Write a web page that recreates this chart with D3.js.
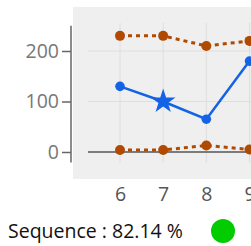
<!DOCTYPE html>
<html>
<head>
<meta charset="utf-8">
<script src="https://cdn.jsdelivr.net/npm/d3@7"></script>
<style>
  body { margin: 0; background: #fff; }
  svg { display: block; font-family: "Open Sans", sans-serif; }
</style>
</head>
<body>
<div id="chart"></div>
<script>
// data
let categories = [6, 7, 8, 9]
let upper = [230, 230, 210, 220]
let lower = [4, 4, 13, 5]
let sequence = [130, 100, 65, 180]
let yTicks = [0, 100, 200]
let legendText = "Sequence : 82.14 %"

let svg = d3.select('#chart')
    .append('svg')
    .attr('width', 251)
    .attr('height', 246)

// scales
let x = d3.scaleLinear().domain([6, 9]).range([120, 249.5])
let y = d3.scaleLinear().domain([0, 200]).range([152, 51])

// gray panel behind the plot
svg.append('rect')
    .attr('x', 73)
    .attr('y', 7)
    .attr('width', 190)
    .attr('height', 172)
    .attr('fill', '#efefef')

// grid lines
svg.append('g')
    .selectAll('line.hgrid')
    .data(yTicks.filter(d => d !== 0))
    .join('line')
    .attr('x1', 88)
    .attr('x2', 251)
    .attr('y1', d => y(d))
    .attr('y2', d => y(d))
    .attr('stroke', '#dedede')
    .attr('stroke-width', 1)

svg.append('g')
    .selectAll('line.vgrid')
    .data(categories)
    .join('line')
    .attr('x1', d => x(d))
    .attr('x2', d => x(d))
    .attr('y1', 23)
    .attr('y2', 163)
    .attr('stroke', '#dedede')
    .attr('stroke-width', 1)

// zero line
svg.append('line')
    .attr('x1', 88)
    .attr('x2', 251)
    .attr('y1', y(0))
    .attr('y2', y(0))
    .attr('stroke', '#555')
    .attr('stroke-width', 1.5)

// y axis
let yAxis = svg.append('g')
    .attr('transform', 'translate(71,0)')
    .call(d3.axisLeft(y).tickValues(yTicks).tickSize(9).tickPadding(3))

yAxis.select('.domain')
    .attr('d', `M0,${y(250)}V${y(-21)}`)
    .attr('stroke', '#666')
    .attr('stroke-width', 1.5)
yAxis.selectAll('.tick line').attr('stroke', '#666').attr('stroke-width', 1.5)
yAxis.selectAll('.tick text')
    .attr('fill', '#777')
    .style('font-size', '19.5px')
    .style('font-family', '"Open Sans", sans-serif')

// x axis labels, no line
let xAxis = svg.append('g')
    .attr('transform', 'translate(0,181)')
    .call(d3.axisBottom(x).tickValues(categories).tickFormat(d3.format('d')).tickSize(0).tickPadding(6))

xAxis.select('.domain').remove()
xAxis.selectAll('.tick text')
    .attr('fill', '#555')
    .style('font-size', '19.5px')
    .style('font-family', '"Open Sans", sans-serif')

let line = d3.line()
    .x((d, i) => x(categories[i]))
    .y(d => y(d))

let orange = '#b04a00'
let blue = '#1463e6'

// dashed bounds
for (let s of [upper, lower]) {
    svg.append('path')
        .datum(s)
        .attr('d', line)
        .attr('fill', 'none')
        .attr('stroke', orange)
        .attr('stroke-width', 3)
        .attr('stroke-dasharray', '4,4')

    svg.append('g')
        .selectAll('circle')
        .data(s)
        .join('circle')
        .attr('cx', (d, i) => x(categories[i]))
        .attr('cy', d => y(d))
        .attr('r', 5)
        .attr('fill', orange)
}

// sequence line
svg.append('path')
    .datum(sequence)
    .attr('d', line)
    .attr('fill', 'none')
    .attr('stroke', blue)
    .attr('stroke-width', 2.5)

let star = d3.symbol().type(d3.symbolStar).size(190)

svg.append('g')
    .selectAll('path.pt')
    .data(sequence)
    .join('path')
    .attr('transform', (d, i) => `translate(${x(categories[i])},${y(d)})`)
    .attr('d', (d, i) => i === 1 ? star() : d3.symbol().type(d3.symbolCircle).size(72)())
    .attr('fill', blue)

// legend
svg.append('text')
    .attr('x', 8)
    .attr('y', 238)
    .attr('fill', '#111')
    .style('font-size', '19.5px')
    .text(legendText)

svg.append('circle')
    .attr('cx', 223)
    .attr('cy', 231)
    .attr('r', 12)
    .attr('fill', '#00cc00')
</script>
</body>
</html>
